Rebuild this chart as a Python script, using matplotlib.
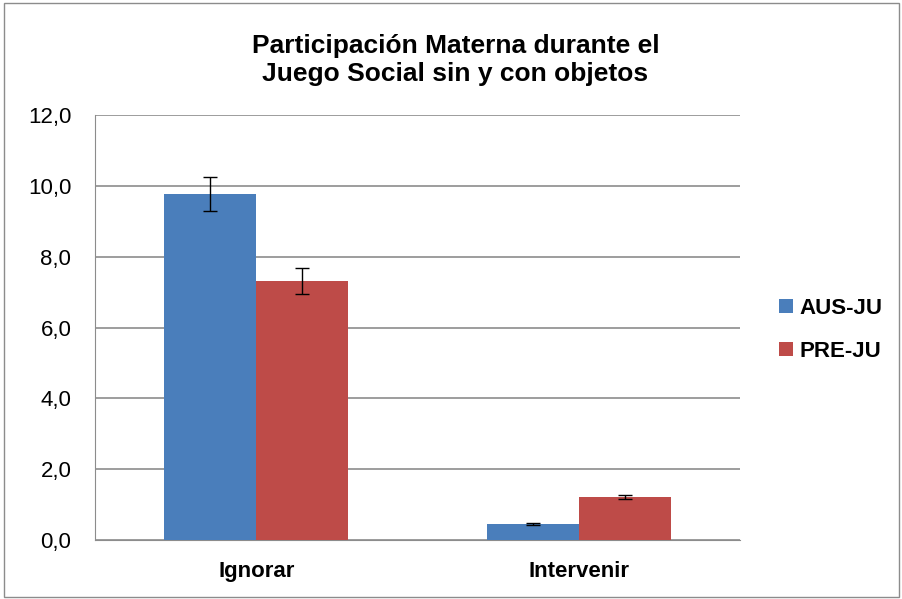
import matplotlib
matplotlib.use("Agg")
import matplotlib.pyplot as plt
from matplotlib.patches import Rectangle
import numpy as np

categories = ["Ignorar", "Intervenir"]
series_names = ["AUS-JU", "PRE-JU"]
aus_values = [9.77, 0.45]
aus_errors = [0.47, 0.03]
pre_values = [7.32, 1.21]
pre_errors = [0.36, 0.05]
yticks = [0, 2, 4, 6, 8, 10, 12]
title = "Participación Materna durante el\nJuego Social sin y con objetos"

plt.rcParams['font.family'] = ['Liberation Sans', 'DejaVu Sans']

fig = plt.figure(figsize=(9.02, 5.99), dpi=100)
fig.patch.set_facecolor('white')
# outer chart border
fig.add_artist(Rectangle((0.004, 0.003), 0.993, 0.992, transform=fig.transFigure,
                         fill=False, edgecolor='#8c8c8c', linewidth=1.0))

ax = fig.add_axes([0.1053, 0.0985, 0.7151, 0.7095])
x = np.arange(len(categories))
w = 0.285
blue = '#4a7ebb'
red = '#be4b48'
ax.bar(x - w/2, aus_values, w, color=blue, yerr=aus_errors, capsize=5,
       error_kw=dict(ecolor='black', elinewidth=1, capthick=1), label=series_names[0], zorder=3)
ax.bar(x + w/2, pre_values, w, color=red, yerr=pre_errors, capsize=5,
       error_kw=dict(ecolor='black', elinewidth=1, capthick=1), label=series_names[1], zorder=3)

ax.set_xlim(-0.5, 1.5)
ax.set_ylim(0, 12)
ax.set_yticks(yticks)
ax.set_yticklabels([f"{v:.1f}".replace('.', ',') for v in yticks], fontsize=16)
ax.set_xticks(x)
ax.set_xticklabels(categories, fontsize=16, fontweight='bold')
ax.yaxis.grid(True, color='#8c8c8c', linewidth=1.2, zorder=0)
ax.set_axisbelow(True)
for s in ['top', 'right']:
    ax.spines[s].set_visible(False)
ax.spines['left'].set_color('#8c8c8c')
ax.spines['bottom'].set_color('#8c8c8c')
ax.tick_params(axis='x', length=0, pad=15)
ax.tick_params(axis='y', length=0, pad=17)

fig.text(0.505, 0.9, title, ha='center', va='center', fontsize=19,
         fontweight='bold', linespacing=1.25)

leg = ax.legend(loc='center left', bbox_to_anchor=(1.03, 0.495), frameon=False,
                prop=dict(weight='bold', size=16),
                handlelength=0.6, handleheight=0.6, handletextpad=0.3, labelspacing=1.0)

fig.savefig('out.png', dpi=100, facecolor='white')
